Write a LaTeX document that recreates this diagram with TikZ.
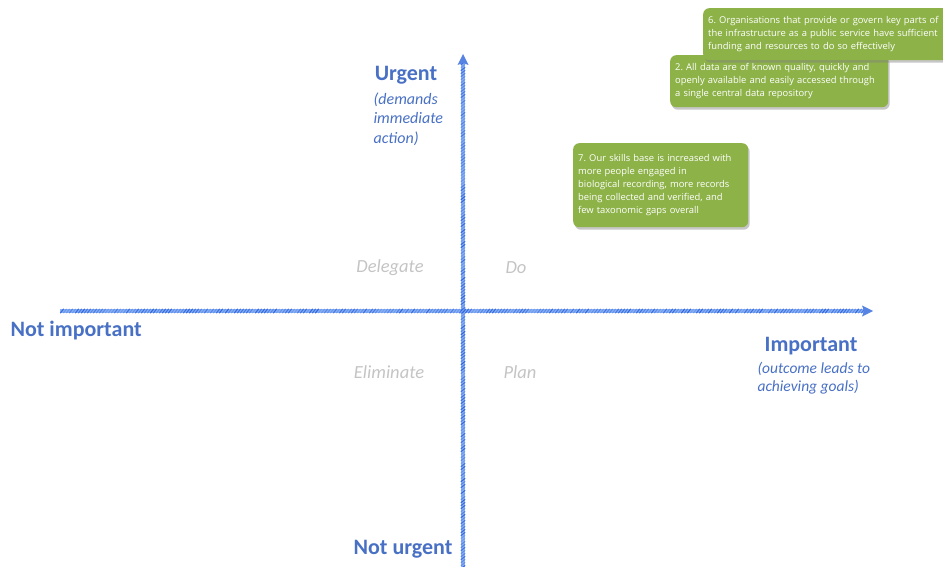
\documentclass[tikz,border=0pt]{standalone}
\usepackage{fontspec}
\setmainfont{Carlito}
\newfontfamily\boxfont{Open Sans}
\frenchspacing
\usetikzlibrary{arrows.meta,shadows,calc}
\definecolor{lblblue}{RGB}{72,112,196}
\definecolor{axisblue}{RGB}{45,100,220}
\definecolor{axislight}{RGB}{140,178,245}
\definecolor{boxgreen}{RGB}{141,178,72}
\definecolor{quadgray}{RGB}{196,196,196}
\tikzset{
  axisbase/.style={line width=4pt, draw=axislight},
  hatchstroke/.style={line width=1.1pt, draw=axisblue, line cap=round},
  goalbox/.style={fill=boxgreen, rounded corners=6pt, text=white, align=left,
    font=\boxfont\fontsize{9.4}{13}\selectfont, inner sep=5pt, anchor=north west,
    drop shadow={opacity=0.45, shadow xshift=1.5pt, shadow yshift=-2.5pt}},
  bluehead/.style={text=lblblue, font=\fontsize{22}{26}\selectfont\bfseries},
  bluenote/.style={text=lblblue, font=\fontsize{16}{19.5}\selectfont\itshape, align=left},
  quad/.style={text=quadgray, font=\fontsize{18.5}{22}\selectfont\itshape}
}
\begin{document}
\begin{tikzpicture}[x=1pt,y=-1pt]
\useasboundingbox (0,0) rectangle (943,567);
\clip (0,0) rectangle (943,567);
\pgfmathsetseed{7}
% axes
\coordinate (hl) at (60,311);
\coordinate (hr) at (873,311);
\coordinate (vb) at (463,570);
\coordinate (vt) at (463,54);
\draw[axisbase] (hl) -- ($(hr)+(-6,0)$);
\draw[axisbase] (vb) -- ($(vt)+(0,6)$);
\foreach \i in {0,...,268} {
  \pgfmathsetmacro{\xx}{62+3*\i}
  \pgfmathsetmacro{\op}{0.25+0.75*rnd}
  \draw[hatchstroke, opacity=\op] (\xx-1.6,313) -- (\xx+1.6,309);
}
\foreach \i in {0,...,168} {
  \pgfmathsetmacro{\yy}{567-3*\i}
  \pgfmathsetmacro{\op}{0.25+0.75*rnd}
  \draw[hatchstroke, opacity=\op] (461,\yy+1.6) -- (465,\yy-1.6);
}
\fill[axisblue!80] (hr) -- ++(-11,-5.5) -- ++(2,5.5) -- ++(-2,5.5) -- cycle;
\fill[axisblue!80] (vt) -- ++(-5.5,11) -- ++(5.5,-2) -- ++(5.5,2) -- cycle;
% axis labels
\node[bluehead] (urg) at (406,75) {Urgent};
\node[bluenote, anchor=west] (urgn) at (370,119) {(demands\\immediate\\action)};
\node[bluehead, anchor=west] (nimp) at (7,331) {Not important};
\node[bluehead] (imp) at (811,346) {Important};
\node[bluenote, anchor=west, font=\fontsize{15.5}{18}\selectfont\itshape] (impn) at (754,378) {(outcome leads to\\achieving goals)};
\node[bluehead] (nurg) at (403,549) {Not urgent};
% quadrants
\node[quad] (del) at (390,268) {Delegate};
\node[quad] (do) at (516,268) {Do};
\node[quad] (eli) at (389,372) {Eliminate};
\node[quad] (pla) at (520,372) {Plan};
% goal boxes
\node[goalbox, text width=208pt, minimum height=52pt] (g2) at (670,55)
  {2. All data are of known quality, quickly and\\openly available and easily accessed through\\a single central data repository};
\node[goalbox, text width=250pt, minimum height=52pt] (g6) at (703,8)
  {6. Organisations that provide or govern key parts of\\the infrastructure as a public service have sufficient\\funding and resources to do so effectively};
\node[goalbox, text width=165pt, minimum height=84pt] (g7) at (573,143)
  {7. Our skills base is increased with\\more people engaged in\\biological recording, more records\\being collected and verified, and\\few taxonomic gaps overall};
\end{tikzpicture}
\end{document}
